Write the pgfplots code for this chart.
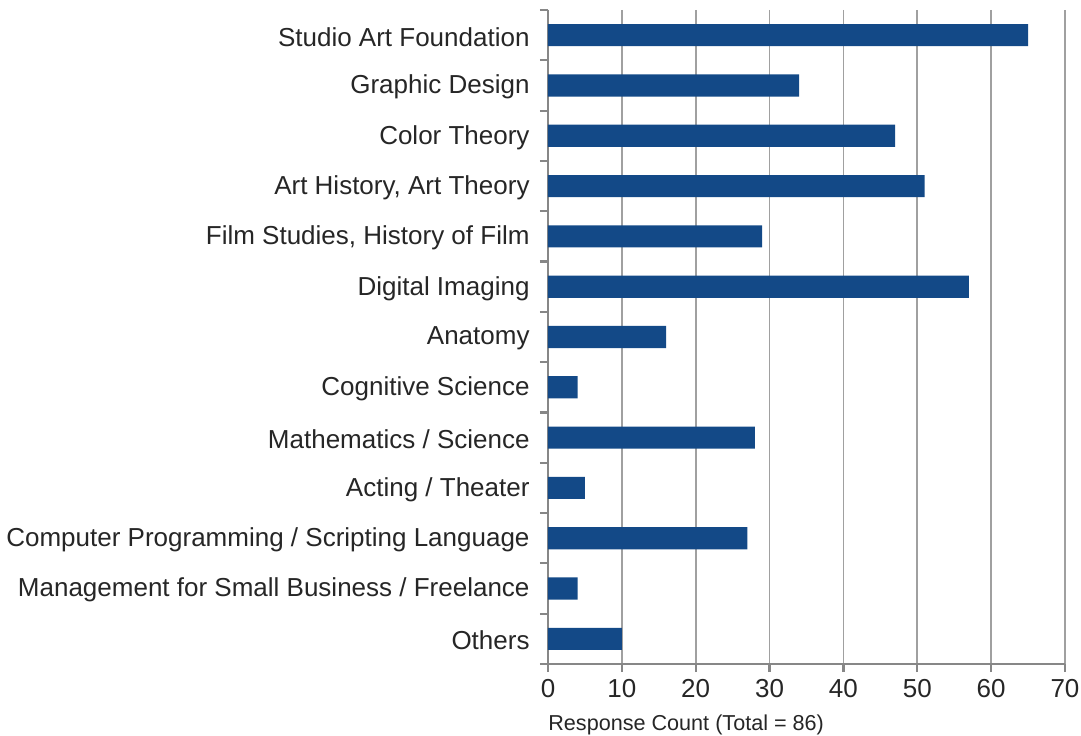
\documentclass[border=0pt]{standalone}
\usepackage{pgfplots}
\pgfplotsset{compat=1.18}
\usepackage{fontspec}
\setmainfont{Liberation Sans}
\definecolor{barblue}{RGB}{19,73,135}
\definecolor{gridgray}{RGB}{160,160,160}
\definecolor{axgray}{RGB}{135,135,135}
\begin{document}
\begin{tikzpicture}
\begin{axis}[name=ax, scale only axis, width=258.5pt, height=327pt,
  xbar, bar width=0.44,
  xmin=0, xmax=70, ymin=-0.5, ymax=12.5, y dir=reverse,
  axis x line*=bottom, axis y line*=left,
  axis line style={axgray, line width=1.1pt},
  xtick={0,10,...,70}, xmajorgrids,
  grid style={gridgray, line width=0.8pt},
  ytick={0,...,12},
  yticklabels={Studio Art Foundation, Graphic Design, Color Theory, {Art History, Art Theory}, {Film Studies, History of Film}, Digital Imaging, Anatomy, Cognitive Science, Mathematics / Science, Acting / Theater, Computer Programming / Scripting Language, Management for Small Business / Freelance, Others},
  minor ytick={-0.5,0.5,...,12.5},
  major y tick style={draw=none},
  minor y tick style={draw=axgray, line width=1.1pt},
  x tick style={draw=axgray, line width=1.1pt},
  tick align=outside, major tick length=4pt, minor tick length=4pt,
  /pgf/number format/assume math mode=true,
  ticklabel style={font=\fontsize{13}{15}\selectfont, text=black!85},
  yticklabel style={xshift=-1.7pt, yshift=-0.8pt},
  xlabel={Response Count (Total = 86)},
  xlabel style={at={(axis description cs:0,0)}, anchor=base west, yshift=-33.5pt, inner sep=0pt, font=\fontsize{10.8}{12}\selectfont, text=black!85},
]
\addplot[draw=none, fill=barblue] coordinates {
(65,0) (34,1) (47,2) (51,3) (29,4) (57,5) (16,6) (4,7) (28,8) (5,9) (27,10) (4,11) (10,12)
};
\end{axis}
\pgfresetboundingbox
\useasboundingbox ([xshift=-274pt,yshift=5pt]ax.north west) rectangle ([xshift=8pt,yshift=-36pt]ax.south east);
\end{tikzpicture}
\end{document}
